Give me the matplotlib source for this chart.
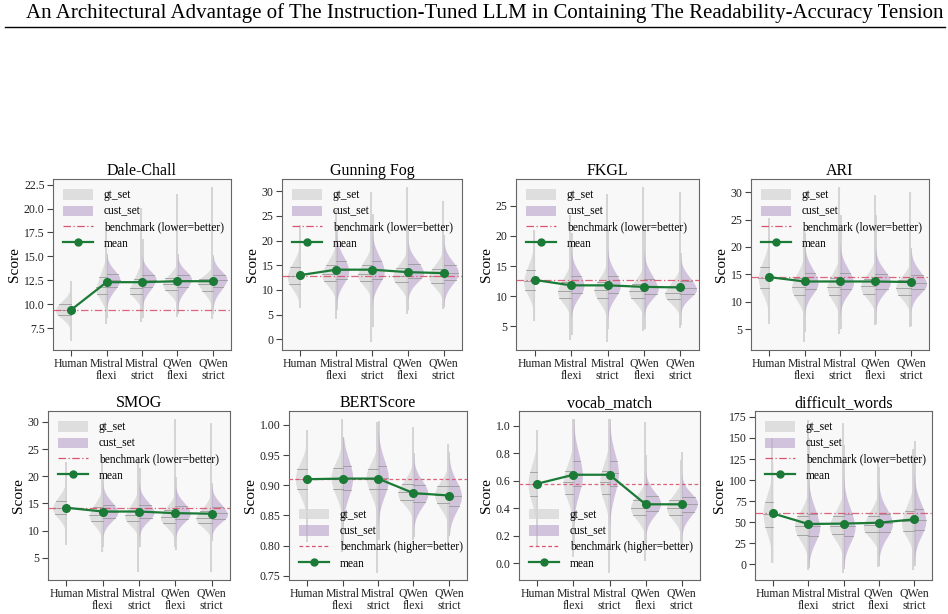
import numpy as np
import matplotlib
matplotlib.use("Agg")
import matplotlib.pyplot as plt
from matplotlib.patches import Patch
from matplotlib.lines import Line2D
from statistics import NormalDist

plt.rcParams['font.family'] = ['Liberation Serif', 'DejaVu Serif']

categories = ["Human", "Mistral\nflexi", "Mistral\nstrict", "QWen\nflexi", "QWen\nstrict"]

# Per metric: gt_set and cust_set summary (min, q1, median, q3, max); Human has only gt_set
metrics = ["Dale-Chall", "Gunning Fog", "FKGL", "ARI", "SMOG", "BERTScore", "vocab_match", "difficult_words"]

dale_gt = [(6.1, 8.85, 9.4, 10.0, 12.4), (7.9, 11.05, 11.8, 12.8, 18.0), (8.1, 11.1, 11.7, 12.6, 20.1),
           (8.7, 11.5, 12.1, 12.7, 21.5), (8.4, 11.4, 12.1, 12.6, 22.3)]
dale_cust = [None, (8.5, 11.8, 12.5, 13.15, 15.3), (8.5, 11.8, 12.5, 13.1, 16.8),
             (9.0, 11.8, 12.5, 13.1, 15.3), (9.0, 11.8, 12.5, 13.1, 15.1)]
dale_mean = [9.4, 12.3, 12.3, 12.4, 12.4]

fog_gt = [(6.4, 11.2, 12.8, 14.6, 23.2), (4.1, 11.9, 13.3, 15.0, 26.2), (-0.5, 11.9, 13.3, 15.0, 29.9),
          (5.2, 11.5, 12.9, 14.4, 30.9), (6.2, 11.4, 12.8, 14.3, 28.1)]
fog_cust = [None, (6.0, 12.3, 14.0, 15.8, 23.0), (2.5, 12.3, 14.0, 15.9, 25.3),
            (6.0, 12.4, 13.7, 15.2, 22.0), (6.5, 12.0, 13.5, 15.0, 21.2)]
fog_mean = [13.0, 14.1, 14.1, 13.6, 13.4]

fkgl_gt = [(5.9, 11.1, 12.6, 14.3, 21.0), (2.8, 9.7, 10.9, 12.3, 23.5), (2.5, 9.7, 11.0, 12.3, 27.0),
           (4.2, 9.7, 10.8, 12.0, 28.0), (4.7, 9.5, 10.5, 11.7, 27.3)]
fkgl_cust = [None, (3.5, 10.6, 11.9, 13.3, 20.5), (4.5, 10.6, 11.9, 13.3, 21.2),
             (4.5, 10.4, 11.5, 12.9, 21.2), (5.2, 10.4, 11.4, 12.6, 17.2)]
fkgl_mean = [12.7, 11.8, 11.8, 11.55, 11.45]

ari_gt = [(6.0, 12.6, 14.4, 16.3, 25.2), (2.7, 11.2, 12.7, 14.3, 23.4), (4.2, 11.2, 12.7, 14.3, 31.0),
          (5.7, 11.5, 12.8, 14.2, 29.5), (5.4, 11.3, 12.6, 13.9, 30.0)]
ari_cust = [None, (4.5, 12.3, 13.7, 15.3, 22.5), (5.0, 12.3, 13.7, 15.3, 25.8),
            (6.0, 12.4, 13.7, 15.1, 25.8), (5.5, 12.3, 13.5, 14.9, 19.8)]
ari_mean = [14.5, 13.7, 13.7, 13.7, 13.6]

smog_gt = [(7.3, 13.0, 14.2, 15.5, 22.6), (6.1, 11.7, 12.9, 14.3, 23.3), (2.4, 11.7, 12.8, 14.2, 23.5),
           (7.0, 11.4, 12.5, 13.7, 30.6), (2.4, 11.4, 12.4, 13.6, 29.7)]
smog_cust = [None, (7.0, 12.4, 13.5, 14.7, 20.3), (7.0, 12.4, 13.5, 14.7, 21.5),
             (6.5, 12.2, 13.3, 14.5, 19.8), (8.0, 12.2, 13.2, 14.4, 18.7)]
smog_mean = [14.2, 13.5, 13.5, 13.2, 13.1]

bert_gt = [(0.806, 0.893, 0.910, 0.927, 0.991), (0.79, 0.893, 0.911, 0.928, 1.010), (0.755, 0.893, 0.911, 0.927, 1.005),
           (0.81, 0.876, 0.888, 0.902, 0.996), (0.80, 0.870, 0.884, 0.898, 0.969)]
bert_cust = [None, (0.80, 0.892, 0.912, 0.932, 0.98), (0.81, 0.893, 0.912, 0.932, 1.007),
             (0.815, 0.872, 0.886, 0.900, 0.953), (0.816, 0.866, 0.882, 0.898, 0.955)]
bert_mean = [0.910, 0.911, 0.911, 0.887, 0.883]

vocab_gt = [(0.13, 0.49, 0.58, 0.668, 0.97), (0.05, 0.508, 0.59, 0.673, 1.05), (-0.07, 0.505, 0.59, 0.675, 1.05),
            (0.02, 0.35, 0.405, 0.46, 1.03), (0.10, 0.35, 0.405, 0.46, 0.75)]
vocab_cust = [None, (0.15, 0.56, 0.65, 0.748, 1.05), (0.10, 0.56, 0.655, 0.748, 1.05),
              (0.15, 0.38, 0.435, 0.49, 0.79), (0.13, 0.375, 0.43, 0.48, 0.81)]
vocab_mean = [0.58, 0.645, 0.645, 0.43, 0.43]

dw_gt = [(2.3, 45, 60, 74.6, 149.6), (-6.6, 35.5, 46, 57, 171), (-9.8, 36, 46, 57, 168),
         (-2.7, 38.5, 47, 58, 128), (-6.6, 40, 51, 64, 137)]
dw_cust = [None, (-4, 34, 46, 60, 150), (-5, 34, 46, 60, 142),
           (-2, 38.5, 49, 60, 116), (-2, 41, 53, 66, 146)]
dw_mean = [60.5, 48.0, 48.5, 49.5, 53.5]

benchmarks = [9.4, 12.9, 12.7, 14.5, 14.2, 0.910, 0.58, 60.5]
bench_kind = ["lower", "lower", "lower", "lower", "lower", "higher", "higher", "lower"]

gt_sets = [dale_gt, fog_gt, fkgl_gt, ari_gt, smog_gt, bert_gt, vocab_gt, dw_gt]
cust_sets = [dale_cust, fog_cust, fkgl_cust, ari_cust, smog_cust, bert_cust, vocab_cust, dw_cust]
means = [dale_mean, fog_mean, fkgl_mean, ari_mean, smog_mean, bert_mean, vocab_mean, dw_mean]

ylims = [(5.2, 23.1), (-2.2, 32.5), (1.1, 29.4), (1.2, 32.4), (0.9, 32.0), (0.743, 1.023), (-0.121, 1.109), (-18.4, 182)]
yticks = [np.arange(7.5, 22.6, 2.5), np.arange(0, 31, 5), np.arange(5, 26, 5), np.arange(5, 31, 5),
          np.arange(5, 31, 5), np.arange(0.75, 1.001, 0.05), np.arange(0, 1.01, 0.2), np.arange(0, 176, 25)]
yfmt = ["%.1f", "%d", "%d", "%d", "%d", "%.2f", "%.1f", "%d"]
legend_loc = ["upper left"] * 5 + ["lower left", "lower left", "upper left"]

# axes boxes in pixels (left, right, top, bottom)
W, H = 948, 614
boxes = [(53, 231, 179, 350), (282, 462, 179, 350), (516, 699, 179, 350), (751, 929, 179, 350),
         (48, 230, 411, 580), (289, 467, 411, 580), (519, 700, 411, 580), (755, 932, 411, 580)]

GRAY = "#d4d4d4"
PURPLE = "#b7a0c8"
GREEN = "#1a7a36"
BENCH = "#d9546e"

_nd = NormalDist()


def make_sample(k, n=300):
    mn, q1, med, q3, mx = k
    s_lo = (med - q1) / 0.6745
    s_hi = (q3 - med) / 0.6745
    p = (np.arange(n) + 0.5) / n
    z = np.array([_nd.inv_cdf(v) for v in p])
    x = np.where(z < 0, med + z * s_lo, med + z * s_hi)
    x = np.clip(x, mn, mx)
    x[0] = mn
    x[-1] = mx
    return x


def kde(sample, grid):
    n = len(sample)
    bw = sample.std(ddof=1) * n ** (-0.2)
    d = (grid[:, None] - sample[None, :]) / bw
    return np.exp(-0.5 * d ** 2).sum(axis=1) / (n * bw * np.sqrt(2 * np.pi))


fig = plt.figure(figsize=(W / 100, H / 100), dpi=100)
fig.text(485 / W, 1 - 13 / H, "An Architectural Advantage of The Instruction-Tuned LLM in Containing The Readability-Accuracy Tension",
         ha="center", va="center", fontsize=15)
fig.add_artist(Line2D([5 / W, 945 / W], [1 - 27 / H, 1 - 27 / H], color="black", lw=1.0))

for i, name in enumerate(metrics):
    l, r, t, b = boxes[i]
    ax = fig.add_axes([l / W, 1 - b / H, (r - l) / W, (b - t) / H])
    ax.set_facecolor("#f8f8f8")

    halves = []
    for j in range(len(categories)):
        for side, ks, col in (("left", gt_sets[i][j], GRAY), ("right", cust_sets[i][j], PURPLE)):
            if ks is None:
                continue
            s = make_sample(ks)
            grid = np.linspace(ks[0], ks[4], 400)
            d = kde(s, grid)
            halves.append((j, side, ks, col, s, grid, d))
    dmax = max(h[6].max() for h in halves)
    scale = 0.44 / dmax

    for j, side, ks, col, s, grid, d in halves:
        w = d * scale
        sign = -1 if side == "left" else 1
        alpha = 0.7 if side == "left" else 0.6
        ax.fill_betweenx(grid, j, j + sign * w, color=col, alpha=alpha, lw=0, zorder=2)
        # thin tail
        ax.plot([j + sign * 0.015, j + sign * 0.015], [ks[0], ks[4]], color="#d2d2d2", lw=1.3,
                solid_capstyle="butt", zorder=1.9)
        for qv in (ks[1], ks[2], ks[3]):
            qw = np.interp(qv, grid, w)
            ax.plot([j, j + sign * qw], [qv, qv], color="#9a9a9a", lw=0.6, zorder=3)

    xs = np.arange(len(categories))
    bstyle = (0, (6, 2, 1, 2)) if bench_kind[i] == "lower" else (0, (3, 2))
    ax.axhline(benchmarks[i], color=BENCH, lw=0.9, ls=bstyle, alpha=0.9, zorder=4)
    ax.plot(xs, means[i], color=GREEN, lw=1.6, marker="o", ms=5.5, zorder=5)

    ax.set_xlim(-0.51, 4.51)
    ax.set_ylim(*ylims[i])
    ax.set_yticks(yticks[i])
    ax.set_yticklabels([yfmt[i] % v for v in yticks[i]])
    ax.set_xticks(xs)
    ax.set_xticklabels(categories, fontsize=8.5, linespacing=0.95)
    ax.tick_params(axis="y", labelsize=8.5)
    ax.tick_params(direction="out", length=4, width=0.8, color="#444444", labelcolor="#222222", pad=2)
    for sp in ax.spines.values():
        sp.set_color("#666666")
        sp.set_linewidth(0.8)
    ax.set_ylabel("Score", fontsize=11, labelpad=2)
    ax.set_title(name, fontsize=11.5, pad=3)

    handles = [Patch(facecolor=GRAY, alpha=0.7, edgecolor="none", label="gt_set"),
               Patch(facecolor=PURPLE, alpha=0.6, edgecolor="none", label="cust_set"),
               Line2D([], [], color=BENCH, lw=0.9, ls=bstyle, label="benchmark (%s=better)" % bench_kind[i]),
               Line2D([], [], color=GREEN, lw=1.6, marker="o", ms=5, label="mean")]
    ax.legend(handles=handles, loc=legend_loc[i], frameon=False, fontsize=8.3,
              handlelength=2.6, handleheight=1.0, handletextpad=0.9, borderaxespad=0.5, labelspacing=0.35)

fig.savefig("out.png", dpi=100)
